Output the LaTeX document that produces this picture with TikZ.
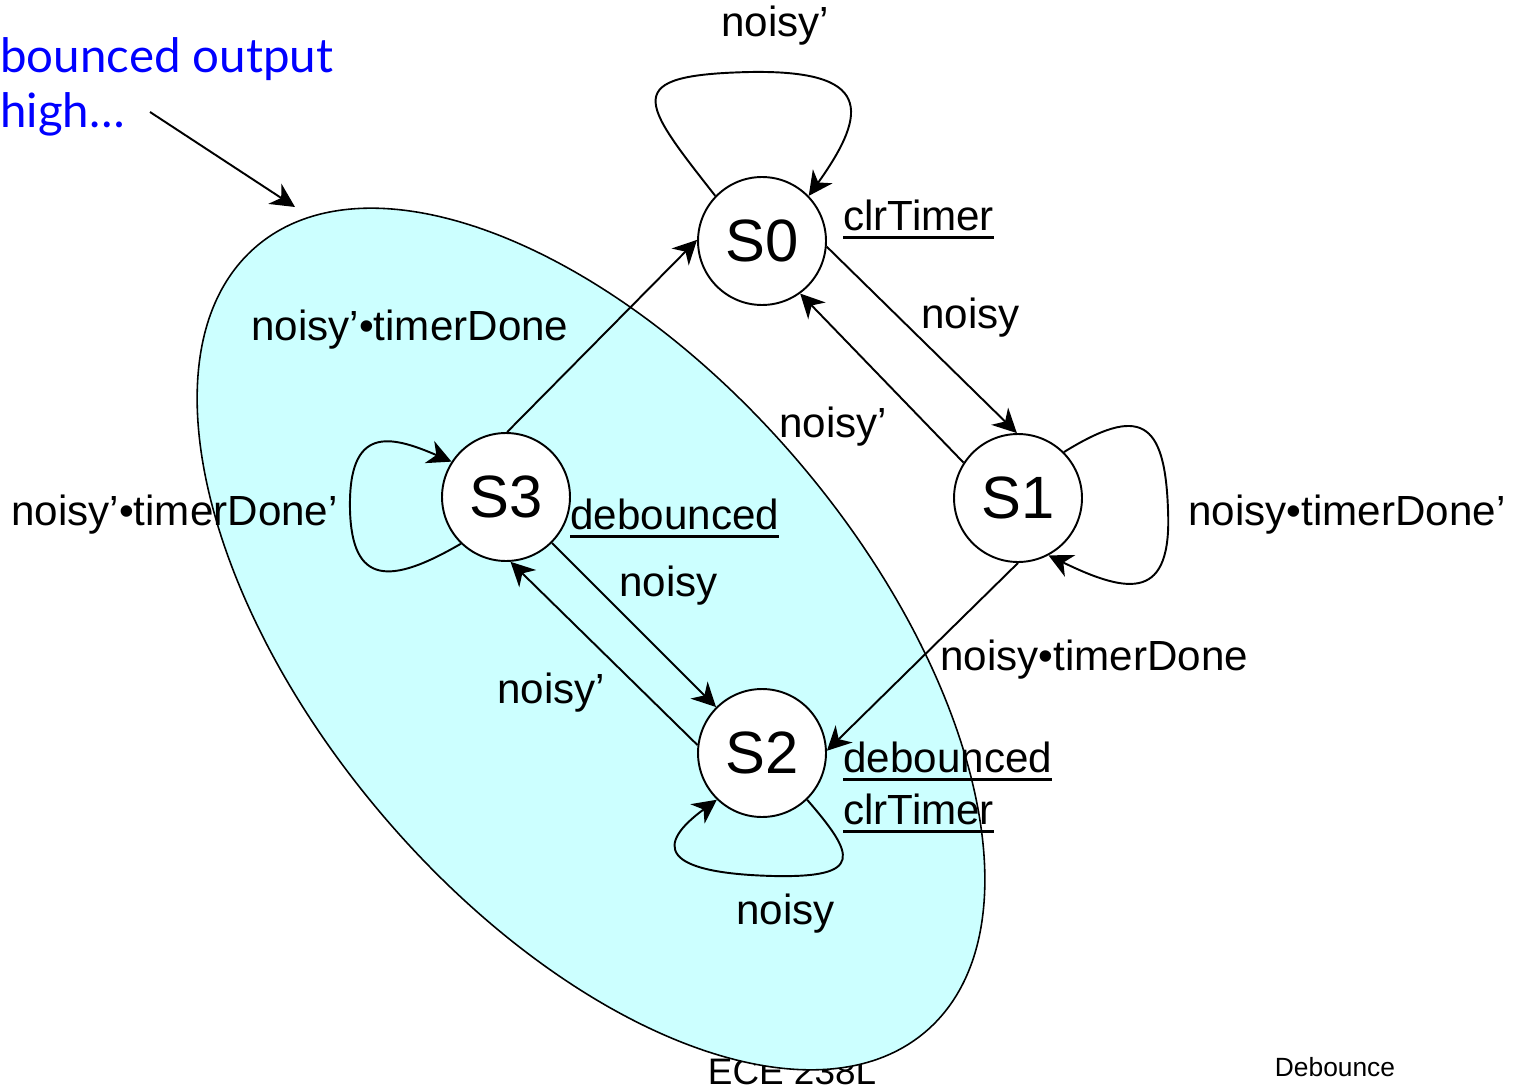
\documentclass[tikz,border=0pt]{standalone}
\usepackage{fontspec}
\setmainfont{Liberation Sans}
\newfontfamily\notefont{Lato}
\usetikzlibrary{arrows.meta}
\definecolor{ellfill}{RGB}{204,255,255}
\definecolor{noteblue}{RGB}{0,0,255}
\newcommand\ulx[1]{\setbox0\hbox{#1}\rlap{\rule[-5pt]{\wd0}{1.7pt}}\box0}
\begin{document}
\begin{tikzpicture}[x=0.02cm,y=-0.02cm,
  state/.style={circle,draw,fill=white,line width=1.1pt,minimum size=2.56cm,inner sep=0pt,font=\fontsize{34}{40}\selectfont},
  lbl/.style={anchor=base west,inner sep=0pt,font=\fontsize{24}{28}\selectfont},
  tr/.style={line width=1.1pt,-{Stealth[length=0.48cm,width=0.48cm,inset=0.15cm]}},
  note/.style={anchor=base west,inner sep=0pt,text=noteblue,font=\notefont\fontsize{27}{32}\selectfont}]
\useasboundingbox (0,0) rectangle (1514,1088);
% footer behind the ellipse
\node[anchor=base,inner sep=0pt,font=\fontsize{21}{25}\selectfont] (ece) at (792,1084) {ECE 238L};
\node[anchor=base,inner sep=0pt,font=\fontsize{15}{18}\selectfont] (deb) at (1335,1076) {Debounce};
% highlighted region
\begin{scope}[shift={(591,639)},rotate=-49.57]
\draw[fill=ellfill,line width=0.9pt] (0,0) ellipse [x radius=10.32cm,y radius=5.46cm];
\end{scope}
% states
\node[state] (S0) at (762,241) {S0};
\node[state] (S1) at (1018,498) {S1};
\node[state] (S2) at (762,753) {S2};
\node[state] (S3) at (506,497) {S3};
% transitions
\draw[tr] (S0.-5) -- (S1.91);
\draw[tr] (S1.147) -- (S0.-54);
\draw[tr] (S1.-90) -- (S2.2);
\draw[tr] (S2.173) -- (S3.-86);
\draw[tr] (S3.-45) -- (S2.135);
\draw[tr] (S3.89) -- (S0.179);
% self loops
\draw[tr] (S0.136) .. controls (640,100) and (620,75) .. (750,72) .. controls (870,70) and (870,110) .. (S0.44);
\draw[tr] (S1.45) .. controls (1140,405) and (1165,420) .. (1168,510) .. controls (1172,600) and (1130,595) .. (S1.-62);
\draw[tr] (S3.-134) .. controls (390,585) and (352,585) .. (350,510) .. controls (348,425) and (390,435) .. (S3.147);
\draw[tr] (S2.-46) .. controls (855,855) and (865,878) .. (773,876) .. controls (660,873) and (655,845) .. (S2.-134);
% labels
\node[lbl] (l0) at (721,37) {noisy’};
\node[lbl] (o0) at (843,230) {\ulx{clrTimer}};
\node[lbl] (l01) at (921,328) {noisy};
\node[lbl] (l10) at (779,437) {noisy’};
\node[lbl] (l11) at (1188,525) {noisy•timerDone’};
\node[lbl] (l12) at (940,670) {noisy•timerDone};
\node[lbl] (l30) at (251,340) {noisy’•timerDone};
\node[lbl] (l33) at (11,525) {noisy’•timerDone’};
\node[lbl] (o3) at (570,529) {\ulx{debounced}};
\node[lbl] (l32) at (619,596) {noisy};
\node[lbl] (l23) at (497,703) {noisy’};
\node[lbl] (o2a) at (843,772) {\ulx{debounced}};
\node[lbl] (o2b) at (843,824) {\ulx{clrTimer}};
\node[lbl] (l22) at (736,924) {noisy};
% annotation
\node[note] (n1) at (0,72) {bounced output};
\node[note] (n2) at (0,128) {high…};
\coordinate (pA) at (150,112);
\coordinate (pB) at (295,207);
\draw[tr] (pA) -- (pB);
\end{tikzpicture}
\end{document}
